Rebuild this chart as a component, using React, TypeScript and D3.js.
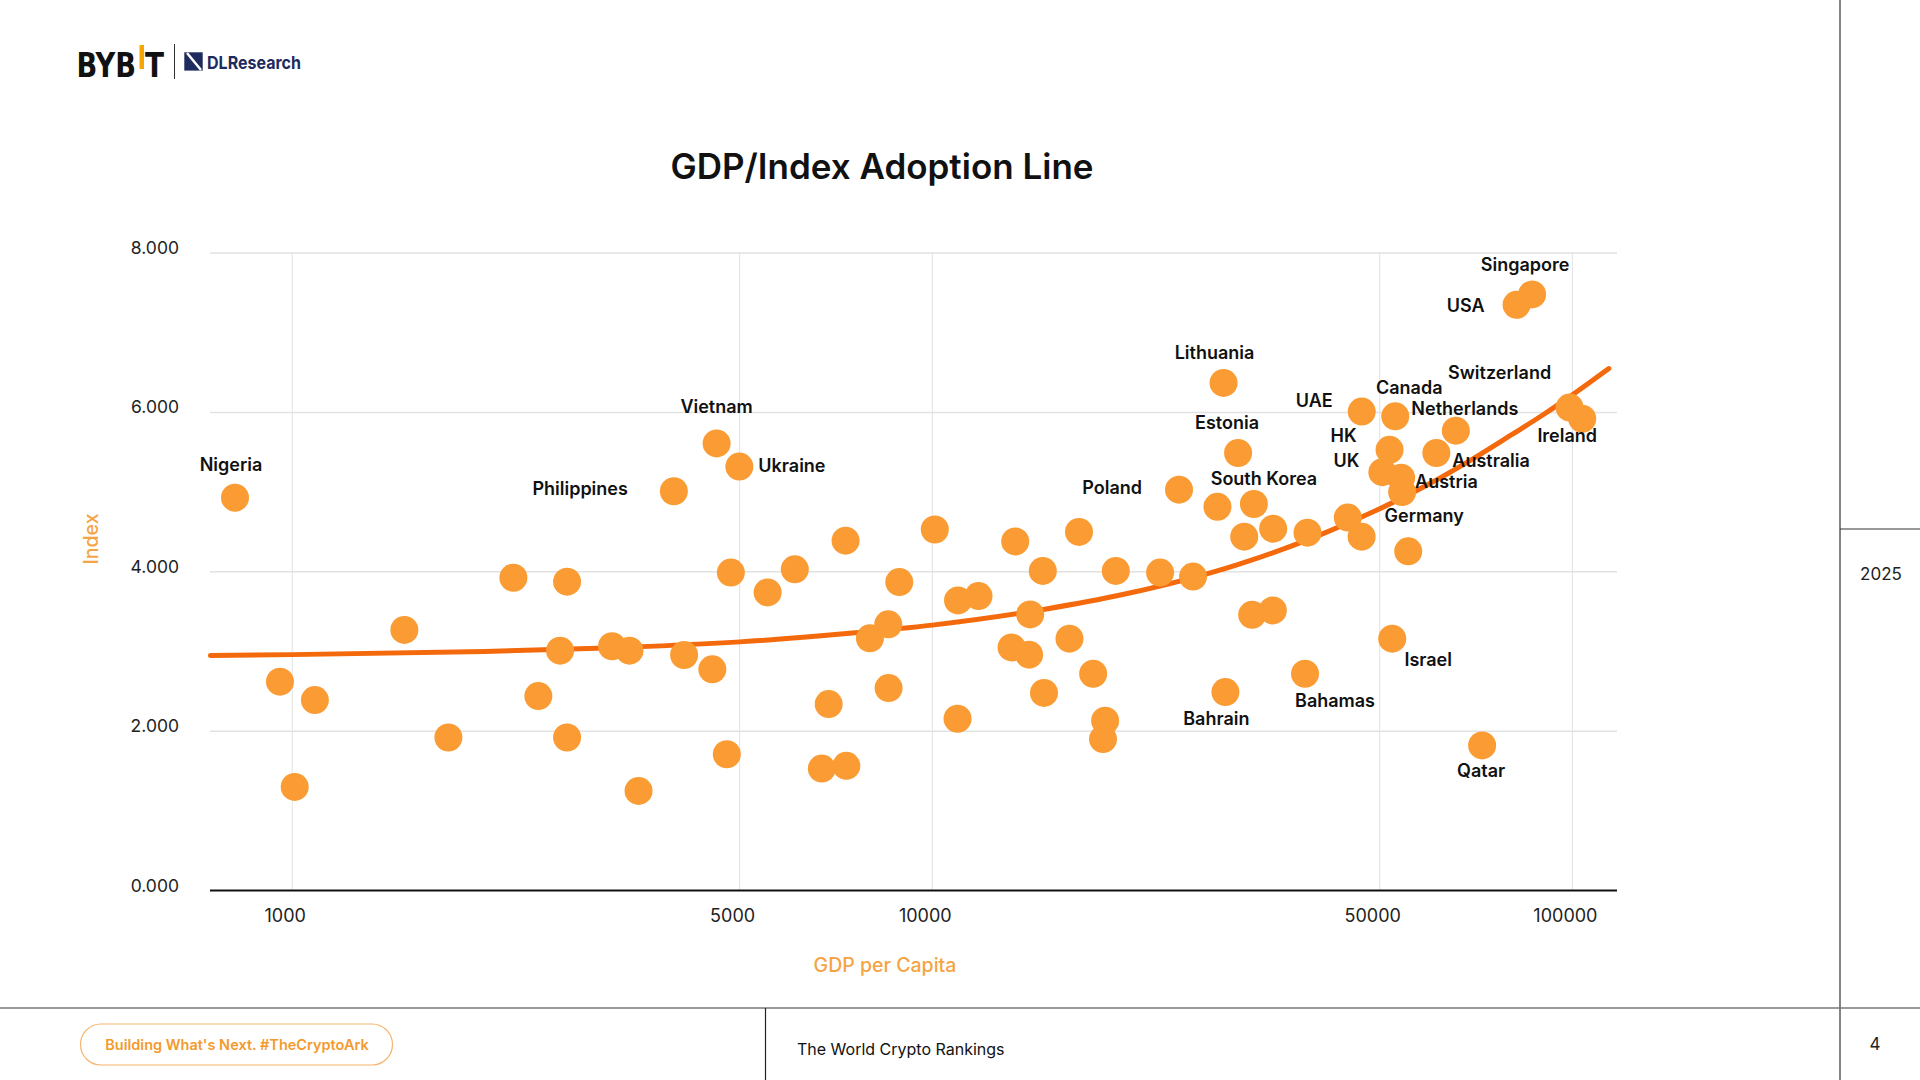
import { useRef, useEffect } from 'react';
import * as d3 from 'd3';

const WIDTH = 1920;
const HEIGHT = 1080;
const PLOT = { left: 210, right: 1617, top: 253, bottom: 890.5 };
const FONT = "Inter, 'Noto Sans', sans-serif";

// ── Axes ─────────────────────────────────────────────────────────────────────
const X_DOMAIN: [number, number] = [744, 117400]; // log axis, padded past the ticks
const Y_DOMAIN: [number, number] = [0, 8];
const X_TICKS = [1000, 5000, 10000, 50000, 100000];
const Y_TICKS = [0, 2, 4, 6, 8];

// ── Named countries ──────────────────────────────────────────────────────────
const labeledNames = [
  'Nigeria', 'Philippines', 'Vietnam', 'Ukraine', 'Poland', 'Lithuania', 'Estonia',
  'South Korea', 'UAE', 'Canada', 'HK', 'UK', 'Austria', 'Netherlands', 'Australia',
  'Germany', 'Switzerland', 'Ireland', 'Singapore', 'USA', 'Israel', 'Bahamas',
  'Bahrain', 'Qatar',
];
const labeledGdp = [
  814, 3947, 4603, 4995, 24290, 28510, 30040,
  31800, 46870, 52870, 51800, 50480, 54000, 65750, 61300,
  55400, 99000, 103600, 86500, 81800, 52300, 38220,
  28700, 72270,
];
const labeledIndex = [
  4.93, 5.01, 5.61, 5.32, 5.03, 6.37, 5.49,
  4.85, 6.01, 5.95, 5.53, 5.25, 5.18, 5.77, 5.49,
  4.256, 6.06, 5.92, 7.48, 7.35, 3.16, 2.72,
  2.49, 1.82,
];

// ── Other countries (unlabelled dots) ───────────────────────────────────────
const otherGdp = [
  957, 1085, 1009, 1497, 1754, 2216, 2688, 2621, 2424, 2688,
  3160, 3364, 3476, 4095, 4533, 4775, 4845, 5530, 6098, 7320,
  6888, 6720, 7340, 7990, 8535, 8880, 8545, 10090, 10970, 11810,
  10950, 13475, 16950, 14880, 19350, 22690, 25550, 14220, 13300, 14165,
  16380, 17835, 14945, 18620, 18480, 31600, 34040, 27890, 30710, 34080,
  38560, 44570, 46850, 54200,
];
const otherIndex = [
  2.62, 2.39, 1.30, 3.27, 1.92, 3.925, 3.875, 3.01, 2.44, 1.92,
  3.065, 3.01, 1.25, 2.955, 2.775, 1.71, 3.99, 3.74, 4.03, 4.39,
  2.34, 1.53, 1.565, 3.165, 3.34, 3.87, 2.54, 4.53, 3.64, 3.695,
  2.155, 4.38, 4.50, 4.01, 4.01, 3.99, 3.94, 3.465, 3.05, 2.96,
  3.16, 2.72, 2.48, 2.13, 1.90, 3.46, 3.515, 4.815, 4.44, 4.54,
  4.49, 4.68, 4.44, 5.00,
];

// ── Trend line as drawn in the chart (read at sample points) ────────────────
const trendGdp = [745, 1000, 2000, 3000, 5000, 7500, 10000, 15000, 20000, 30000, 40000, 50000, 60000, 70000, 80000, 90000, 100000, 114000];
const trendIndex = [2.95, 2.96, 3.0, 3.04, 3.12, 3.23, 3.33, 3.53, 3.72, 4.09, 4.45, 4.79, 5.11, 5.42, 5.71, 5.97, 6.22, 6.55];

// label placement relative to its dot
const LABEL_POS: Record<string, { dx: number; dy: number; anchor: string }> = {
  Nigeria: { dx: -4, dy: -27, anchor: 'middle' },
  Philippines: { dx: -46, dy: 4, anchor: 'end' },
  Vietnam: { dx: 0, dy: -30, anchor: 'middle' },
  Ukraine: { dx: 19, dy: 5, anchor: 'start' },
  Poland: { dx: -37, dy: 4, anchor: 'end' },
  Lithuania: { dx: -9, dy: -24, anchor: 'middle' },
  Estonia: { dx: -11, dy: -24, anchor: 'middle' },
  'South Korea': { dx: 10, dy: -19, anchor: 'middle' },
  UAE: { dx: -29, dy: -5, anchor: 'end' },
  Canada: { dx: 14, dy: -22, anchor: 'middle' },
  HK: { dx: -33, dy: -8, anchor: 'end' },
  UK: { dx: -23, dy: -5, anchor: 'end' },
  Austria: { dx: 14, dy: 10, anchor: 'start' },
  Netherlands: { dx: 9, dy: -16, anchor: 'middle' },
  Australia: { dx: 16, dy: 14, anchor: 'start' },
  Germany: { dx: 16, dy: -29, anchor: 'middle' },
  Switzerland: { dx: -70, dy: -29, anchor: 'middle' },
  Ireland: { dx: -15, dy: 23, anchor: 'middle' },
  Singapore: { dx: -7, dy: -23, anchor: 'middle' },
  USA: { dx: -32, dy: 7, anchor: 'end' },
  Israel: { dx: 36, dy: 27, anchor: 'middle' },
  Bahamas: { dx: 30, dy: 33, anchor: 'middle' },
  Bahrain: { dx: -9, dy: 33, anchor: 'middle' },
  Qatar: { dx: -1, dy: 32, anchor: 'middle' },
};

const DOT = '#FA9C33';
const LINE = '#F4690C';
const AXIS_TITLE = '#F5A443';
const GRID = '#E2E2E2';

export default function App() {
  const svgRef = useRef<SVGSVGElement>(null);

  useEffect(() => {
    if (!svgRef.current) return;
    const svg = d3.select(svgRef.current);
    svg.selectAll('*').remove();

    const x = d3.scaleLog().domain(X_DOMAIN).range([PLOT.left, PLOT.right]);
    const y = d3.scaleLinear().domain(Y_DOMAIN).range([PLOT.bottom, PLOT.top]);

    svg.append('rect').attr('width', WIDTH).attr('height', HEIGHT).attr('fill', '#fff');

    // ── Header logo ──────────────────────────────────────────────────────────
    const logo = svg.append('g');
    const narrow = "'Liberation Sans Narrow', 'DejaVu Sans Condensed', Inter, sans-serif";
    logo.append('text').attr('x', 76.5).attr('y', 76.5).attr('font-family', narrow)
      .attr('font-weight', 700).attr('font-size', 34).attr('fill', '#111')
      .attr('textLength', 59.5).attr('lengthAdjust', 'spacingAndGlyphs').text('BYB');
    logo.append('rect').attr('x', 139.5).attr('y', 45).attr('width', 4.5).attr('height', 24).attr('fill', '#F7A600');
    logo.append('text').attr('x', 145).attr('y', 76.5).attr('font-family', narrow)
      .attr('font-weight', 700).attr('font-size', 34).attr('fill', '#111')
      .attr('textLength', 19).attr('lengthAdjust', 'spacingAndGlyphs').text('T');
    logo.append('line').attr('x1', 174.5).attr('x2', 174.5).attr('y1', 44).attr('y2', 79)
      .attr('stroke', '#333').attr('stroke-width', 1);
    logo.append('rect').attr('x', 184.3).attr('y', 52.3).attr('width', 18.4).attr('height', 18.3).attr('fill', '#1E2B5E');
    logo.append('line').attr('x1', 187).attr('y1', 53).attr('x2', 201).attr('y2', 70)
      .attr('stroke', '#fff').attr('stroke-width', 2.5);
    logo.append('text').attr('x', 207).attr('y', 69).attr('font-family', FONT)
      .attr('font-weight', 700).attr('font-size', 18).attr('fill', '#1E2B5E')
      .attr('textLength', 94).attr('lengthAdjust', 'spacingAndGlyphs').text('DLResearch');

    // ── Title ────────────────────────────────────────────────────────────────
    svg.append('text').attr('x', 882).attr('y', 179).attr('text-anchor', 'middle')
      .attr('font-family', FONT).attr('font-weight', 600).attr('font-size', 35)
      .attr('fill', '#111').text('GDP/Index Adoption Line');

    // ── Grid ─────────────────────────────────────────────────────────────────
    const grid = svg.append('g').attr('stroke', GRID);
    grid.selectAll('line.h').data(Y_TICKS.filter((t) => t > 0)).join('line')
      .attr('class', 'h').attr('x1', PLOT.left).attr('x2', PLOT.right)
      .attr('y1', (d) => y(d)).attr('y2', (d) => y(d)).attr('stroke-width', 1.5);
    grid.selectAll('line.v').data(X_TICKS).join('line')
      .attr('class', 'v').attr('x1', (d) => x(d)).attr('x2', (d) => x(d))
      .attr('y1', PLOT.top).attr('y2', PLOT.bottom).attr('stroke-width', 1);

    // ── Axes ─────────────────────────────────────────────────────────────────
    svg.append('line').attr('x1', PLOT.left).attr('x2', PLOT.right)
      .attr('y1', y(0)).attr('y2', y(0)).attr('stroke', '#111').attr('stroke-width', 2);

    svg.append('g').selectAll('text').data(Y_TICKS).join('text')
      .attr('x', 179).attr('y', (d) => y(d) + 1).attr('text-anchor', 'end')
      .attr('font-family', FONT).attr('font-size', 17.5).attr('fill', '#222')
      .text((d) => d3.format('.3f')(d));

    svg.append('g').selectAll('text').data(X_TICKS).join('text')
      .attr('x', (d) => x(d) - 7).attr('y', 921.5).attr('text-anchor', 'middle')
      .attr('font-family', FONT).attr('font-size', 18).attr('fill', '#222')
      .text((d) => `${d}`);

    svg.append('text').attr('x', 885).attr('y', 972).attr('text-anchor', 'middle')
      .attr('font-family', FONT).attr('font-weight', 500).attr('font-size', 19.5)
      .attr('fill', AXIS_TITLE).text('GDP per Capita');

    svg.append('text').attr('transform', 'translate(98,539) rotate(-90)')
      .attr('text-anchor', 'middle').attr('font-family', FONT).attr('font-weight', 500)
      .attr('font-size', 19.5).attr('fill', AXIS_TITLE).text('Index');

    // ── Trend line ───────────────────────────────────────────────────────────
    const trend = trendGdp.map((g, i) => [g, trendIndex[i]] as [number, number]);
    const line = d3.line<[number, number]>()
      .x((d) => x(d[0]))
      .y((d) => y(d[1]))
      .curve(d3.curveMonotoneX);
    svg.append('path').datum(trend).attr('fill', 'none').attr('stroke', LINE)
      .attr('stroke-width', 5).attr('stroke-linecap', 'round').attr('d', line);

    // ── Dots ─────────────────────────────────────────────────────────────────
    const others = otherGdp.map((g, i) => [g, otherIndex[i]] as [number, number]);
    const named = labeledGdp.map((g, i) => ({ name: labeledNames[i], gdp: g, score: labeledIndex[i] }));

    svg.append('g').selectAll('circle').data(others).join('circle')
      .attr('cx', (d) => x(d[0])).attr('cy', (d) => y(d[1])).attr('r', 14).attr('fill', DOT);
    svg.append('g').selectAll('circle').data(named).join('circle')
      .attr('cx', (d) => x(d.gdp)).attr('cy', (d) => y(d.score)).attr('r', 14).attr('fill', DOT);

    // ── Labels ───────────────────────────────────────────────────────────────
    svg.append('g').selectAll('text').data(named).join('text')
      .attr('x', (d) => x(d.gdp) + LABEL_POS[d.name].dx)
      .attr('y', (d) => y(d.score) + LABEL_POS[d.name].dy)
      .attr('text-anchor', (d) => LABEL_POS[d.name].anchor)
      .attr('font-family', FONT).attr('font-weight', 600).attr('font-size', 18)
      .attr('fill', '#111').text((d) => d.name);

    // ── Page frame ───────────────────────────────────────────────────────────
    svg.append('line').attr('x1', 1840).attr('x2', 1840).attr('y1', 0).attr('y2', HEIGHT)
      .attr('stroke', '#333').attr('stroke-width', 1.2);
    svg.append('line').attr('x1', 1840).attr('x2', WIDTH).attr('y1', 529).attr('y2', 529)
      .attr('stroke', '#333').attr('stroke-width', 1.2);
    svg.append('text').attr('x', 1881).attr('y', 580).attr('text-anchor', 'middle')
      .attr('font-family', FONT).attr('font-size', 17).attr('fill', '#222').text('2025');

    svg.append('line').attr('x1', 0).attr('x2', WIDTH).attr('y1', 1008).attr('y2', 1008)
      .attr('stroke', '#777').attr('stroke-width', 1.5);
    svg.append('line').attr('x1', 765.5).attr('x2', 765.5).attr('y1', 1008).attr('y2', HEIGHT)
      .attr('stroke', '#222').attr('stroke-width', 1.2);

    svg.append('rect').attr('x', 80.5).attr('y', 1024).attr('width', 312).attr('height', 41)
      .attr('rx', 20.5).attr('fill', 'none').attr('stroke', '#F6B46C').attr('stroke-width', 1.2);
    svg.append('text').attr('x', 237).attr('y', 1050).attr('text-anchor', 'middle')
      .attr('font-family', FONT).attr('font-weight', 600).attr('font-size', 14.5)
      .attr('fill', '#F39A2E').text("Building What's Next. #TheCryptoArk");

    svg.append('text').attr('x', 797).attr('y', 1055)
      .attr('font-family', FONT).attr('font-size', 16).attr('fill', '#111')
      .text('The World Crypto Rankings');
    svg.append('text').attr('x', 1875).attr('y', 1050).attr('text-anchor', 'middle')
      .attr('font-family', FONT).attr('font-size', 17).attr('fill', '#222').text('4');
  }, []);

  return (
    <svg
      ref={svgRef}
      width={WIDTH}
      height={HEIGHT}
      viewBox={`0 0 ${WIDTH} ${HEIGHT}`}
      style={{ position: 'absolute', left: 0, top: 0 }}
    />
  );
}
